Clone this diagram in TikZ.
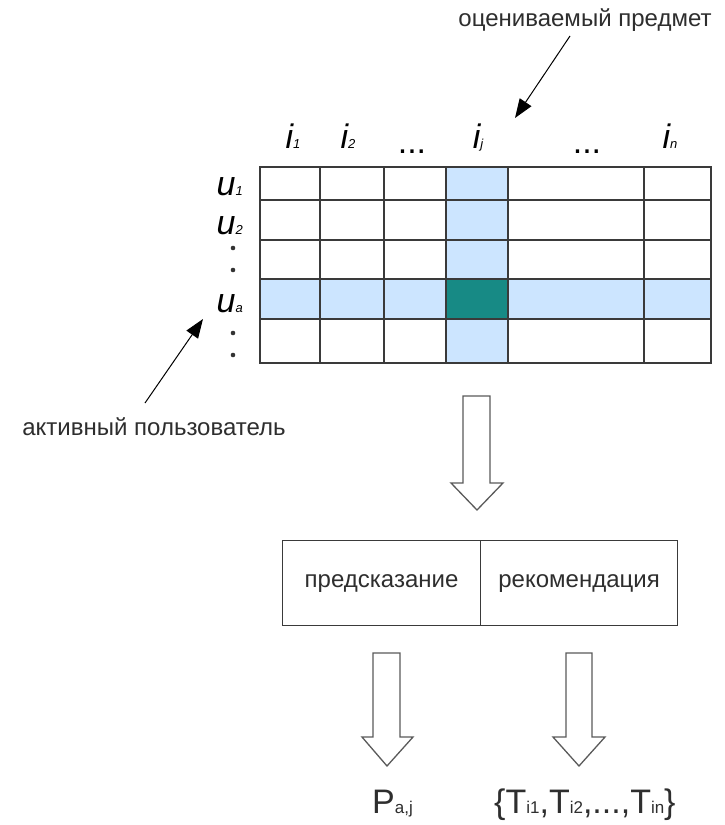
\documentclass[tikz,border=0pt]{standalone}
\usepackage{fontspec}
\setmainfont{Liberation Sans}
\usetikzlibrary{arrows.meta}
\definecolor{lblue}{HTML}{CCE5FF}
\definecolor{tealc}{HTML}{178A85}
\definecolor{gridc}{HTML}{3A3A3A}
\definecolor{txtc}{HTML}{2E2E2E}
\definecolor{arrc}{HTML}{5A5A5A}
\newcommand{\biglab}[2]{{\fontsize{34}{34}\selectfont\itshape #1}{\fontsize{13}{13}\selectfont\itshape #2}}
\newcommand{\bigt}[1]{{\fontsize{34}{34}\selectfont #1}}
\newcommand{\smallt}[1]{{\fontsize{17}{17}\selectfont #1}}
\begin{document}
\begin{tikzpicture}[x=1pt,y=-1pt,
  gridline/.style={draw=gridc,line width=1.1pt},
  hdr/.style={inner sep=0pt,anchor=base,text=black},
  rowlab/.style={inner sep=0pt,anchor=base east,text=black},
  caption/.style={inner sep=0pt,text=txtc,font=\fontsize{24}{24}\selectfont},
  pointer/.style={draw=black,line width=1pt,-{Triangle[length=19pt,width=14pt]}},
  blockarrow/.style={draw=arrc,line width=1.3pt,fill=white,line join=miter},
  cell/.style={draw=gridc,line width=1.1pt,minimum height=85pt,inner sep=0pt,font=\fontsize{24}{24}\selectfont,text=txtc}
]
\useasboundingbox (0,0) rectangle (725,825);
\fill[white] (0,0) rectangle (725,825);

% highlighted column and row
\fill[lblue] (446,167) rectangle (508,363);
\fill[lblue] (260,279) rectangle (711,319);
\fill[tealc] (446,279) rectangle (508,319);

% grid
\draw[gridline] (260,167) rectangle (711,363);
\foreach \x in {320,384,446,508,644} \draw[gridline] (\x,167) -- (\x,363);
\foreach \y in {200,240,279,319} \draw[gridline] (260,\y) -- (711,\y);

% column headers
\node[hdr] (i1) at (293,148) {\biglab{i}{1}};
\node[hdr] (i2) at (348,148) {\biglab{i}{2}};
\node[hdr] (d1) at (412,153) {\fontsize{34}{34}\selectfont ...};
\node[hdr] (ij) at (478,148) {\biglab{i}{j}};
\node[hdr] (d2) at (587,153) {\fontsize{34}{34}\selectfont ...};
\node[hdr] (in) at (670,148) {\biglab{i}{n}};

% row labels
\node[rowlab] (u1) at (243,195) {\biglab{u}{1}};
\node[rowlab] (u2) at (243,234) {\biglab{u}{2}};
\node[rowlab] (ua) at (243,312) {\biglab{u}{a}};
\foreach \y in {248,270,333,355} \fill[black!80] (233,\y) circle (2.3pt);

% pointers
\node[caption] (item) at (585,20) {оцениваемый предмет};
\coordinate (itemfrom) at (570,36);
\coordinate (itemto) at (515,118);
\draw[pointer] (itemfrom) -- (itemto);

\node[caption] (user) at (154,427) {активный пользователь};
\coordinate (userfrom) at (145,403);
\coordinate (userto) at (203,319);
\draw[pointer] (userfrom) -- (userto);

% block arrow from matrix
\draw[blockarrow] (463,396) -- (490,396) -- (490,483) -- (503,483) -- (477,510) -- (451,483) -- (463,483) -- cycle;

% result box
\node[cell,minimum width=198pt,anchor=north west] (pred) at (282,540) {предсказание};
\node[cell,minimum width=197pt,anchor=north west] (rec) at (480,540) {рекомендация};

% block arrows to results
\draw[blockarrow] (373,653) -- (400,653) -- (400,737) -- (413,737) -- (387,766) -- (362,737) -- (373,737) -- cycle;
\draw[blockarrow] (566,653) -- (592,653) -- (592,737) -- (605,737) -- (579,766) -- (553,737) -- (566,737) -- cycle;

% results
\node[inner sep=0pt,anchor=base west,text=txtc] (pout) at (372,813)
  {\bigt{P}\smallt{a,j}};
\node[inner sep=0pt,anchor=base west,text=txtc] (tout) at (494,813)
  {\bigt{\{T}\smallt{i1}\bigt{,T}\smallt{i2}\bigt{,...,T}\smallt{in}\bigt{\}}};
\end{tikzpicture}
\end{document}
